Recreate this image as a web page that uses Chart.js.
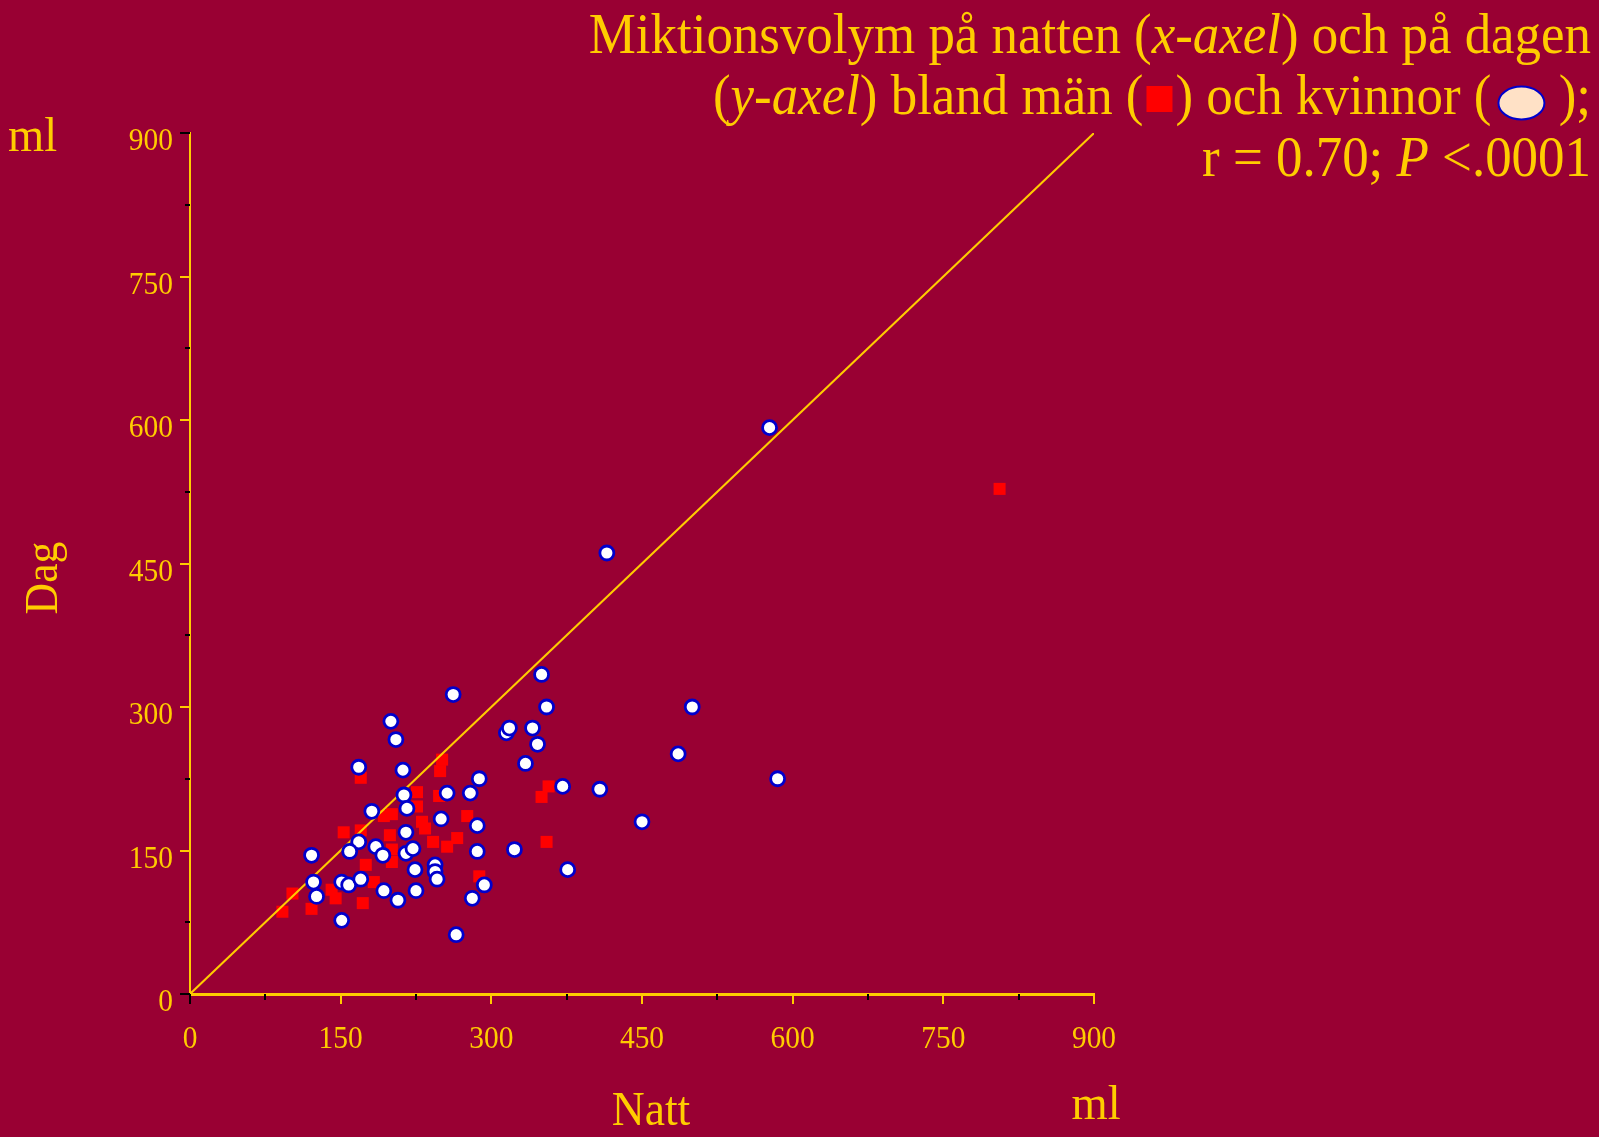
<!DOCTYPE html>
<html><head><meta charset="utf-8">
<script src="https://cdn.jsdelivr.net/npm/chart.js@4"></script>
<style>html,body{margin:0;padding:0;background:#990033;overflow:hidden}canvas{display:block}</style>
</head><body>
<canvas id="c" width="1599" height="1137" style="width:1599px;height:1137px"></canvas>
<script>
// ---- data ----
const xTickValues = [0, 150, 300, 450, 600, 750, 900];
const yTickValues = [0, 150, 300, 450, 600, 750, 900];
const xTickLabels = ['0', '150', '300', '450', '600', '750', '900'];
const yTickLabels = ['0', '150', '300', '450', '600', '750', '900'];

// kvinnor (women) - night volume (x) and day volume (y), ml
const womenX = [577,415,350,355,500,486,262,200,205,168,212,315,318,341,346,334,288,279,256,371,408,585,213,216,181,250,286,450,215,168,185,159,215,222,192,121,286,323,244,244,246,224,376,123,151,158,170,126,193,225,207,281,293,151,265];
const womenY = [592,461,334,300,300,251,313,285,266,237,234,273,278,278,261,241,225,210,210,217,214,225,208,194,191,183,176,180,169,159,154,149,147,152,145,145,149,151,135,128,120,130,130,117,117,114,120,102,108,108,98,100,114,77,62];

// män (men)
const menX = [806,153,170,193,201,226,226,199,201,201,175,183,172,121,92,102,141,145,231,234,242,256,266,276,248,170,251,249,357,350,355,288];
const menY = [528,169,171,186,188,211,196,166,151,138,135,117,95,89,86,105,109,100,180,173,159,154,163,186,207,226,245,233,217,206,159,123];

// line of identity
const diagX = [0, 900];
const diagY = [0, 900];

const titleLines = [
  [{t:'Miktionsvolym på natten ('}, {t:'x-axel', i:true}, {t:') och på dagen'}],
  [{t:'('}, {t:'y-axel', i:true}, {t:') bland män ('}, {sym:'square'}, {t:') och kvinnor ('}, {sym:'circle'}, {t:' );'}],
  [{t:'r = 0.70; '}, {t:'P', i:true}, {t:' <.0001'}]
];
const xAxisTitle = 'Natt';
const yAxisTitle = 'Dag';
const unitLabel = 'ml';

// ---- styling ----
const BG = '#990033', GOLD = '#FFCC00';
const SERIF = '"Liberation Serif", "Times New Roman", serif';

function drawText(ctx, t, x, y, font, align, sx) {
  ctx.save();
  ctx.font = font; ctx.fillStyle = GOLD; ctx.textBaseline = 'alphabetic'; ctx.textAlign = 'left';
  const w = ctx.measureText(t).width * sx;
  const x0 = align === 'right' ? x - w : align === 'center' ? x - w / 2 : x;
  ctx.translate(x0, y); ctx.scale(sx, 1); ctx.fillText(t, 0, 0);
  ctx.restore();
  return w;
}

const decor = {
  id: 'decor',
  beforeDraw(chart) {
    const ctx = chart.ctx;
    ctx.save(); ctx.fillStyle = BG; ctx.fillRect(0, 0, chart.width, chart.height); ctx.restore();
  },
  afterDraw(chart) {
    const ctx = chart.ctx, xs = chart.scales.x, ys = chart.scales.y;
    const ca = chart.chartArea;
    ctx.save();
    ctx.lineWidth = 2;
    // x ticks
    xTickValues.forEach((v, i) => {
      const px = Math.round(xs.getPixelForValue(v));
      ctx.strokeStyle = i === 0 ? '#000000' : GOLD;
      ctx.beginPath(); ctx.moveTo(px, ca.bottom); ctx.lineTo(px, ca.bottom + 10); ctx.stroke();
      if (i < xTickValues.length - 1) {
        const m = Math.round(xs.getPixelForValue((v + xTickValues[i + 1]) / 2));
        ctx.strokeStyle = '#000000';
        ctx.beginPath(); ctx.moveTo(m, ca.bottom); ctx.lineTo(m, ca.bottom + 6); ctx.stroke();
      }
    });
    // y ticks
    yTickValues.forEach((v, i) => {
      const py = Math.round(ys.getPixelForValue(v));
      const black = (i === 0 || i === yTickValues.length - 1);
      ctx.strokeStyle = black ? '#000000' : GOLD;
      ctx.beginPath(); ctx.moveTo(ca.left, py); ctx.lineTo(ca.left - 10, py); ctx.stroke();
      if (i < yTickValues.length - 1) {
        const m = Math.round(ys.getPixelForValue((v + yTickValues[i + 1]) / 2));
        ctx.strokeStyle = '#000000';
        ctx.beginPath(); ctx.moveTo(ca.left, m); ctx.lineTo(ca.left - 5, m); ctx.stroke();
      }
    });
    ctx.restore();

    // tick labels
    const tf = '32px ' + SERIF, tsx = 0.92;
    xTickValues.forEach((v, i) => {
      drawText(ctx, xTickLabels[i], xs.getPixelForValue(v), ca.bottom + 54, tf, 'center', tsx);
    });
    yTickValues.forEach((v, i) => {
      drawText(ctx, yTickLabels[i], ca.left - 17, ys.getPixelForValue(v) + 17, tf, 'right', tsx);
    });

    // axis titles and units
    const af = '48px ' + SERIF;
    drawText(ctx, unitLabel, 8, 151, af, 'left', 0.97);
    drawText(ctx, unitLabel, 1096, 1119, af, 'center', 0.97);
    drawText(ctx, xAxisTitle, 651, 1125, af, 'center', 0.95);
    ctx.save();
    ctx.translate(57, 578); ctx.rotate(-Math.PI / 2);
    drawText(ctx, yAxisTitle, 0, 0, '46px ' + SERIF, 'center', 0.95);
    ctx.restore();

    // title (right aligned, mixed italics, inline legend symbols)
    const fs = 56, sx = 0.945, right = 1591;
    const baselines = [53, 114, 176];
    titleLines.forEach((segs, li) => {
      let x = right;
      const y = baselines[li];
      for (let k = segs.length - 1; k >= 0; k--) {
        const s = segs[k];
        if (s.sym === 'square') {
          const w = 32;
          ctx.save(); ctx.fillStyle = '#FF0000';
          ctx.fillRect(x - w + 3, y - 28, 26, 26); ctx.restore();
          x -= w;
        } else if (s.sym === 'circle') {
          const w = 54;
          ctx.save(); ctx.fillStyle = '#FFE1C6'; ctx.strokeStyle = '#0000CC'; ctx.lineWidth = 2;
          ctx.beginPath(); ctx.ellipse(x - w / 2 + 3, y - 11, 23, 16.5, 0, 0, Math.PI * 2); ctx.fill(); ctx.stroke();
          ctx.restore();
          x -= w;
        } else {
          const font = (s.i ? 'italic ' : '') + fs + 'px ' + SERIF;
          const w = drawText(ctx, s.t, x, y, font, 'right', sx);
          x -= w;
        }
      }
    });
  }
};

const toPts = (xa, ya) => xa.map((v, i) => ({x: v, y: ya[i]}));

new Chart(document.getElementById('c'), {
  data: {
    datasets: [
      {type: 'scatter', label: 'kvinnor', data: toPts(womenX, womenY), pointStyle: 'circle', pointRadius: 7,
       borderWidth: 2.8, backgroundColor: '#FFFFFF', borderColor: '#0000CC', order: 0},
      {type: 'line', label: 'identitet', data: toPts(diagX, diagY), borderColor: GOLD, borderWidth: 2,
       pointRadius: 0, fill: false, order: 1},
      {type: 'scatter', label: 'män', data: toPts(menX, menY), pointStyle: 'rect', pointRadius: 8.5,
       borderWidth: 0, backgroundColor: '#FF0000', borderColor: '#FF0000', order: 2}
    ]
  },
  options: {
    responsive: false, animation: false, devicePixelRatio: 1, events: [],
    layout: {padding: {top: 133, right: 505, left: 0, bottom: 0}},
    plugins: {legend: {display: false}, tooltip: {enabled: false}, title: {display: false}},
    scales: {
      x: {type: 'linear', min: 0, max: 900, ticks: {display: false, stepSize: 150},
          grid: {display: false}, border: {display: true, color: GOLD, width: 3},
          afterFit(s) { s.height = 143; }},
      y: {type: 'linear', min: 0, max: 900, ticks: {display: false, stepSize: 150},
          grid: {display: false}, border: {display: true, color: GOLD, width: 2},
          afterFit(s) { s.width = 190; }}
    }
  },
  plugins: [decor]
});
</script>
</body></html>
